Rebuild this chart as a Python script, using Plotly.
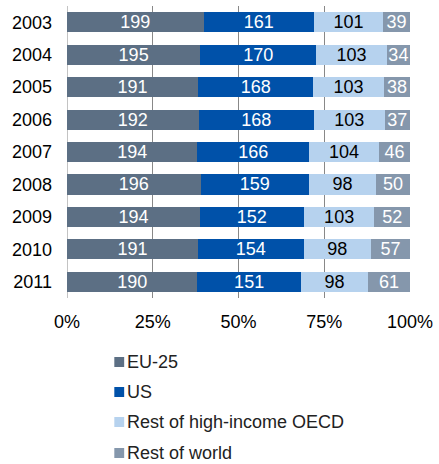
import plotly.graph_objects as go

years = ["2003", "2004", "2005", "2006", "2007", "2008", "2009", "2010", "2011"]
eu25 = [199, 195, 191, 192, 194, 196, 194, 191, 190]
us = [161, 170, 168, 168, 166, 159, 152, 154, 151]
rest_oecd = [101, 103, 103, 103, 104, 98, 103, 98, 98]
rest_world = [39, 34, 38, 37, 46, 50, 52, 57, 61]
tick_vals = [0, 25, 50, 75, 100]
tick_text = ["0%", "25%", "50%", "75%", "100%"]

series = [
    ("EU-25", eu25, "#5C6F84", "white"),
    ("US", us, "#0051A9", "white"),
    ("Rest of high-income OECD", rest_oecd, "#B6D2EE", "black"),
    ("Rest of world", rest_world, "#8597AC", "white"),
]

FONT = "Arial, Liberation Sans, sans-serif"
W, H = 439, 464
L, R, T, B = 67, 24, 6, 166
PW, PH = W - L - R, H - T - B

def px_x(p):
    return (p - L) / PW

def px_y(p):
    return (H - B - p) / PH

fig = go.Figure()
for name, vals, color, tcol in series:
    fig.add_trace(go.Bar(
        y=years, x=vals, name=name, orientation="h",
        marker=dict(color=color, line=dict(width=0)),
        text=[str(v) for v in vals], texttemplate="%{text}",
        textposition="inside", insidetextanchor="middle", textangle=0,
        constraintext="none", cliponaxis=False,
        textfont=dict(family=FONT, size=18, color=tcol),
        width=0.62, showlegend=False,
    ))

# custom legend
legend_y = [362, 392, 422, 453]
shapes = [dict(type="line", xref="x", yref="paper", x0=0, x1=0, y0=0, y1=1,
               line=dict(color="#888", width=1), layer="below")]
annotations = []
for (name, vals, color, tcol), ly in zip(series, legend_y):
    shapes.append(dict(type="rect", xref="paper", yref="paper",
                       x0=px_x(115), x1=px_x(125), y0=px_y(ly + 5), y1=px_y(ly - 5),
                       fillcolor=color, line=dict(width=0)))
    annotations.append(dict(xref="paper", yref="paper", x=px_x(126), y=px_y(ly),
                            xanchor="left", yanchor="middle", showarrow=False,
                            text=name, font=dict(family=FONT, size=18, color="#222")))

fig.update_layout(
    barmode="stack", barnorm="percent",
    width=W, height=H,
    margin=dict(l=L, r=R, t=T, b=B),
    paper_bgcolor="white", plot_bgcolor="white",
    font=dict(family=FONT, size=18, color="black"),
    showlegend=False,
    uniformtext=dict(minsize=18, mode="show"),
    xaxis=dict(range=[0, 100.001], tickvals=tick_vals, ticktext=tick_text,
               showgrid=True, gridcolor="#888", gridwidth=1,
               zeroline=False, showline=False, ticks="",
               ticklabelstandoff=11, tickfont=dict(size=18)),
    yaxis=dict(autorange="reversed", showgrid=False, ticks="",
               ticklabelstandoff=14, tickfont=dict(size=18)),
    shapes=shapes, annotations=annotations,
)

fig.write_html("out.html")
